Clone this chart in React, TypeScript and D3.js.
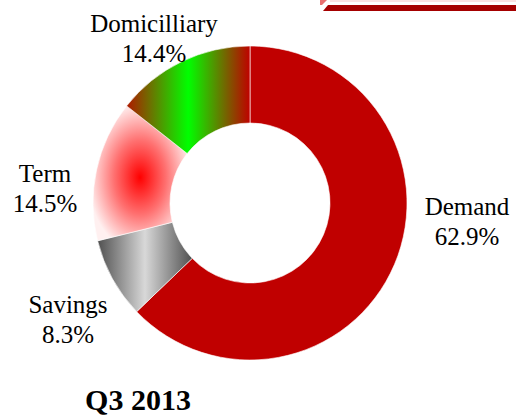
import React from "react";
import * as d3 from "d3";

const categories = ["Demand", "Savings", "Term", "Domicilliary"];
const shares = [62.9, 8.3, 14.5, 14.4];
const title = "Q3 2013";

const W = 516, H = 420;
const CX = 250, CY = 203, RO = 157, RI = 80;
const FONT = "'Liberation Serif', 'Times New Roman', Times, serif";
const LABEL_POS: Record<string, [number, number]> = {
  Demand: [467, 215],
  Savings: [68, 313],
  Term: [45, 182],
  Domicilliary: [154, 32],
};
const FILLS: Record<string, string> = {
  Demand: "#c00000",
  Savings: "url(#gSav)",
  Term: "url(#gTerm)",
  Domicilliary: "url(#gDom)",
};

export default function App() {
  const data = categories.map((c, i) => ({ c, v: shares[i] }));
  const pie = d3.pie<any>().sort(null).value((d) => d.v);
  const arcs = pie(data);
  const arc = d3.arc<any>().innerRadius(RI).outerRadius(RO);
  return (
    <svg width={W} height={H} style={{ position: "absolute", left: 0, top: 0, background: "#fff" }}>
      <defs>
        <linearGradient id="gDom" x1="0" x2="1" y1="0" y2="0">
          <stop offset="0" stopColor="#b01800" />
          <stop offset="0.5" stopColor="#00ff00" />
          <stop offset="1" stopColor="#c00000" />
        </linearGradient>
        <linearGradient id="gSav" x1="0" x2="1" y1="0" y2="0">
          <stop offset="0" stopColor="#505050" />
          <stop offset="0.5" stopColor="#d8d8d8" />
          <stop offset="1" stopColor="#505050" />
        </linearGradient>
        <radialGradient id="gTerm" cx="0.5" cy="0.53" r="0.55">
          <stop offset="0" stopColor="#ff0000" />
          <stop offset="0.5" stopColor="#ff7070" />
          <stop offset="1" stopColor="#fff0f0" />
        </radialGradient>
      </defs>
      <polygon points="320,0 327,0 322,5 320,5" fill="#e87070" />
      <line x1={330} x2={W} y1={1} y2={1} stroke="#f8d8d8" strokeWidth={1.5} />
      <polygon points={`323,11 328,5 ${W},5 ${W},11`} fill="#a50000" />
      <g transform={`translate(${CX},${CY})`}>
        {arcs.map((a) => (
          <path key={a.data.c} d={arc(a) as string} fill={FILLS[a.data.c]} stroke="#fff" strokeWidth={0.6} />
        ))}
      </g>
      {data.map((d) => {
        const [x, y] = LABEL_POS[d.c];
        return (
          <text key={d.c} x={x} y={y} textAnchor="middle" style={{ fontFamily: FONT }} fontSize={25} fill="#000">
            <tspan x={x}>{d.c}</tspan>
            <tspan x={x} dy={30}>{d.v.toFixed(1)}%</tspan>
          </text>
        );
      })}
      <text x={138} y={410} textAnchor="middle" style={{ fontFamily: FONT }} fontWeight="bold" fontSize={30}>
        {title}
      </text>
    </svg>
  );
}
